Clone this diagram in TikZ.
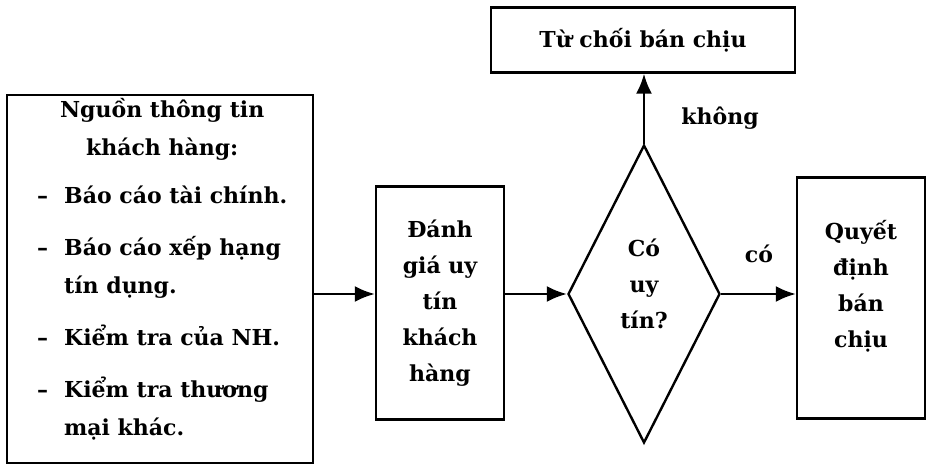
\documentclass[tikz,border=0pt]{standalone}
\usepackage{fontspec}
\setmainfont{DejaVu Serif}
\usetikzlibrary{shapes.geometric,arrows.meta}

\begin{document}
\begin{tikzpicture}[x=1pt, y=-1pt,
  box/.style={draw, line width=2.4pt, inner sep=0pt, align=center},
  arr/.style={line width=2.4pt, -{Latex[length=20pt, width=16pt]}},
  font=\fontsize{22}{36}\selectfont\bfseries]

  \useasboundingbox (0,0) rectangle (929,469);

  % Source of information (left)
  \node[box, minimum width=306, minimum height=368] (src) at (160,279) {};
  \node[anchor=base west, inner sep=0pt, font=\fontsize{22}{38}\selectfont\bfseries] (srctext) at (37,117) {%
    \begin{tabular}[t]{@{}l@{\hspace{16pt}}l@{}}
      \multicolumn{2}{c}{Nguồn thông tin}\\
      \multicolumn{2}{c}{khách hàng:}\\[10pt]
      – & Báo cáo tài chính.\\[14pt]
      – & Báo cáo xếp hạng\\
        & tín dụng.\\[14pt]
      – & Kiểm tra của NH.\\[14pt]
      – & Kiểm tra thương\\
        & mại khác.
    \end{tabular}};

  % Evaluate, decide, outcomes
  \node[box, minimum width=128, minimum height=233] (eval) at (440,303) {Đánh\\giá uy\\tín\\khách\\hàng};
  \node[box, diamond, minimum width=152, minimum height=298] (dec) at (644,294) {};
  \node[align=center] (dectext) at (644,284) {Có\\uy\\tín?};
  \node[box, minimum width=128, minimum height=241] (sell) at (861,298) {};
  \node[align=center] (selltext) at (861,286) {Quyết\\định\\bán\\chịu};
  \node[box, minimum width=304, minimum height=65] (reject) at (643,40) {Từ chối bán chịu};

  % Arrows
  \draw[arr] (src.east |- dec) -- (eval.west |- dec);
  \draw[arr] (eval.east |- dec) -- (dec.west);
  \draw[arr] (dec.east) -- (sell.west |- dec);
  \draw[arr] (dec.north) -- (dec.north |- reject.south);

  \node (no) at (720,118) {không};
  \node (yes) at (759,254) {có};

\end{tikzpicture}
\end{document}
